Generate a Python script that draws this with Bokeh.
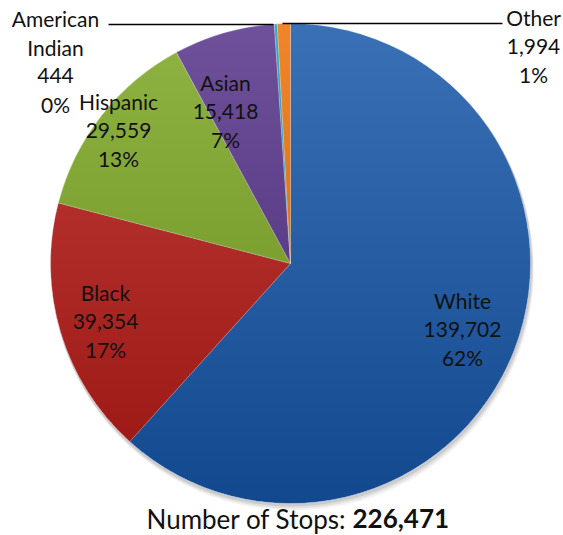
import math
import numpy as np
from bokeh.plotting import figure
from bokeh.models import Range1d, ColumnDataSource
from bokeh.core.properties import value
from bokeh.embed import file_html
from bokeh.resources import INLINE

categories = ["White", "Black", "Hispanic", "Asian", "American Indian", "Other"]
counts = [139702, 39354, 29559, 15418, 444, 1994]
colors = ["#3A70B6", "#C03D3A", "#90B443", "#6E519A", "#3AAAC4", "#F0862A"]
label_lines = [["White", "139,702", "62%"], ["Black", "39,354", "17%"],
               ["Hispanic", "29,559", "13%"], ["Asian", "15,418", "7%"],
               ["American", "Indian", "444", "0%"], ["Other", "1,994", "1%"]]
title_prefix = "Number of Stops:"
title_total = "226,471"

W, H = 563, 535
CX, CY, R = 290, H - 263, 240
FONT = value("Lato")

p = figure(width=W, height=H, output_backend="svg", toolbar_location=None,
           x_range=Range1d(0, W), y_range=Range1d(0, H), min_border=0)
p.axis.visible = False
p.grid.visible = False
p.outline_line_color = None
p.background_fill_color = "white"

total = sum(counts)
starts, ends = [], []
cum = 0.0
for c in counts:
    s = cum / total
    cum += c
    e = cum / total
    # clockwise from 12 o'clock
    starts.append(math.radians(90 - e * 360))
    ends.append(math.radians(90 - s * 360))

# soft shadow
for off, a in [(6, 0.05), (4, 0.07), (2, 0.09)]:
    p.circle(x=[CX + off * 0.4], y=[CY - off], radius=R + 1, fill_color="black",
             fill_alpha=a, line_color=None)

src = ColumnDataSource(dict(start=starts, end=ends, color=colors))
p.wedge(x=CX, y=CY, radius=R, start_angle="start", end_angle="end",
        fill_color="color", line_color="white", line_width=0.5, line_alpha=0.5,
        source=src)

# vertical darkening gradient: stacked circle segments below successive levels
N = 40
a = 1 - (1 - 0.19) ** (1.0 / N)
xs_list, ys_list = [], []
for i in range(N):
    yl = CY + R - (i + 0.5) * (2 * R / N)
    h = max(-1.0, min(1.0, (yl - CY) / R))
    t0 = math.asin(h)
    th = np.linspace(math.pi - t0, 2 * math.pi + t0, 200)
    xs_list.append(list(CX + R * np.cos(th)))
    ys_list.append(list(CY + R * np.sin(th)))
p.patches(xs=xs_list, ys=ys_list, fill_color="black", fill_alpha=a, line_color=None)

# label positions (center x, top-line y in screen px) and line spacing
label_pos = [(462, 300), (105, 292), (118, 101), (225, 82), (55, 18), (533, 17)]
LS = 28.5
for (lx, ly), lines in zip(label_pos, label_lines):
    ys = [H - (ly + i * LS) for i in range(len(lines))]
    p.text(x=[lx] * len(lines), y=ys, text=lines, text_font=FONT,
           text_font_size="21px", text_align="center", text_baseline="middle",
           text_color="#111111")

# leader lines
p.line(x=[108, 273], y=[H - 24, H - 24], line_color="black", line_width=1.5)
p.line(x=[282, 502], y=[H - 23, H - 23], line_color="black", line_width=1.5)

# title
p.text(x=[346], y=[H - 518], text=[title_prefix], text_font=FONT,
       text_font_size="26px", text_align="right", text_baseline="middle",
       text_color="#111111")
p.text(x=[352], y=[H - 518], text=[title_total], text_font=FONT,
       text_font_size="26px", text_font_style="bold", text_align="left",
       text_baseline="middle", text_color="#111111")

open("out.html", "w").write(file_html(p, INLINE))
